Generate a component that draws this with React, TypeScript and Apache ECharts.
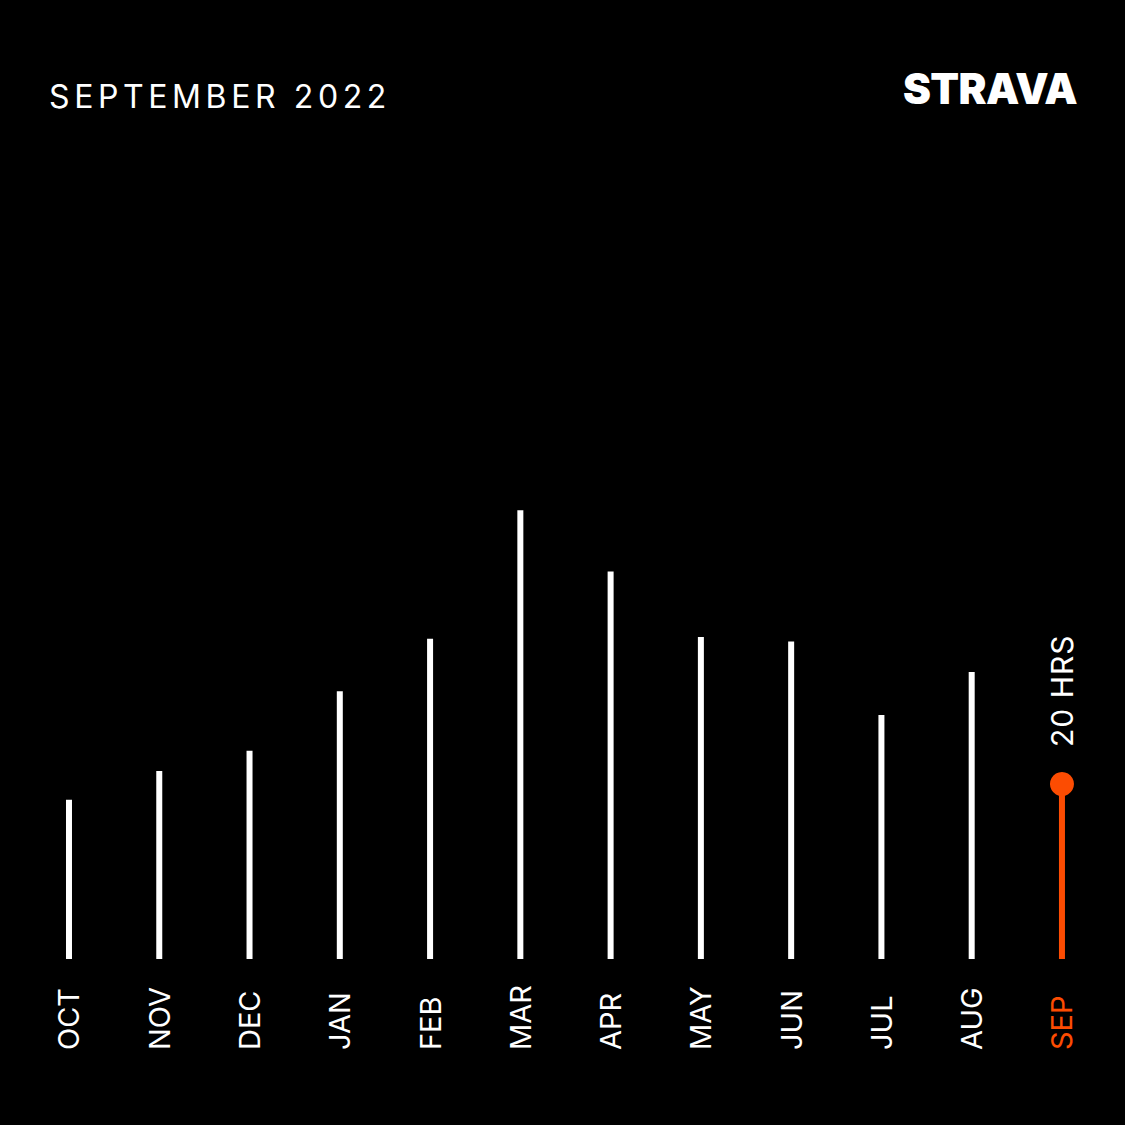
import React, { useEffect, useRef } from "react";
import * as echarts from "echarts";

const months = ["OCT", "NOV", "DEC", "JAN", "FEB", "MAR", "APR", "MAY", "JUN", "JUL", "AUG", "SEP"];
const hours = [18.2, 21.5, 23.8, 30.6, 36.6, 51.3, 44.3, 36.8, 36.3, 27.9, 32.8, 20];
const highlightLabel = "20 HRS";
const titleText = "SEPTEMBER 2022";
const logoText = "STRAVA";
const yTicks = [0, 100];

const ORANGE = "#FC4C02";
const FONT = "Inter, 'Noto Sans', sans-serif";

export default function App() {
  const ref = useRef<HTMLDivElement>(null);
  useEffect(() => {
    if (!ref.current) return;
    document.body.style.margin = "0";
    const chart = echarts.init(ref.current, null, { renderer: "svg" });
    const last = months.length - 1;
    chart.setOption({
      animation: false,
      backgroundColor: "#000",
      grid: { left: 23.86, right: 17.9, top: 84, bottom: 166 },
      xAxis: {
        type: "category",
        data: months,
        axisLine: { show: false },
        axisTick: { show: false },
        splitLine: { show: false },
        axisLabel: {
          interval: 0,
          rotate: 90,
          align: "left",
          verticalAlign: "middle",
          margin: 91,
          padding: [0, 0, 6, 0],
          fontSize: 29,
          fontFamily: FONT,
          color: (_v: any, i: number) => (i === last ? ORANGE : "#fff"),
        },
      },
      yAxis: {
        type: "value",
        min: yTicks[0],
        max: yTicks[1],
        show: false,
        splitLine: { show: false },
      },
      graphic: [
        {
          type: "text",
          left: 49,
          top: 80,
          style: { text: titleText, fill: "#fff", font: `400 32px ${FONT}` },
        },
        {
          type: "text",
          left: 903,
          top: 67,
          style: { text: logoText, fill: "#fff", font: `900 42px ${FONT}` },
        },
      ],
      series: [
        {
          type: "bar",
          data: hours,
          barWidth: 6,
          itemStyle: {
            color: (p: any) => (p.dataIndex === last ? ORANGE : "#fff"),
          },
        },
        {
          type: "scatter",
          data: hours.map((v, i) => (i === last ? v : "-")),
          symbol: "circle",
          symbolSize: 24,
          itemStyle: { color: ORANGE, opacity: 1 },
          label: {
            show: true,
            position: "top",
            rotate: 90,
            align: "left",
            verticalAlign: "middle",
            distance: 25,
            formatter: highlightLabel,
            color: "#fff",
            opacity: 1,
            textBorderWidth: 0,
            padding: [0, 0, 4, 0],
            fontSize: 30,
            fontFamily: FONT,
          },
          z: 5,
        },
      ],
    });
    const spacing = () => {
      const texts = ref.current?.querySelectorAll("text") || [];
      texts.forEach((t) => {
        const s = t.textContent || "";
        if (s === titleText) t.style.letterSpacing = "4.6px";
        else if (s === logoText) t.style.letterSpacing = "-0.6px";
        else if (s === highlightLabel) t.style.letterSpacing = "1px";
      });
    };
    chart.on("finished", spacing);
    spacing();
    const timer = setTimeout(spacing, 50);
    return () => {
      clearTimeout(timer);
      chart.dispose();
    };
  }, []);
  return (
    <div
      ref={ref}
      style={{ position: "fixed", left: 0, top: 0, width: 1125, height: 1125 }}
    />
  );
}
